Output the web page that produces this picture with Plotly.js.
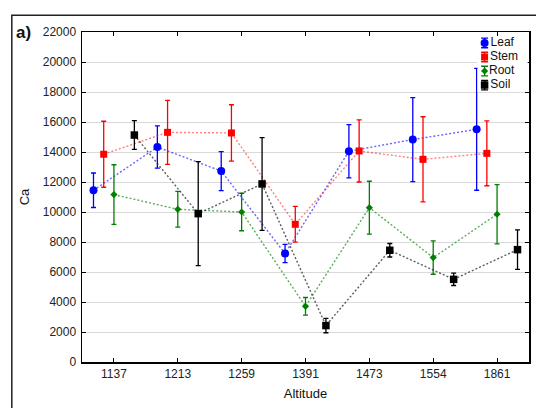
<!DOCTYPE html>
<html>
<head>
<meta charset="utf-8">
<script src="https://cdn.plot.ly/plotly-3.0.1.min.js"></script>
<style>
  html, body { margin: 0; padding: 0; background: #fff; }
  #chart { width: 536px; height: 408px; }
</style>
</head>
<body>
<div id="chart"></div>
<script>
// Altitude sites (categories on the x axis)
const altitudes = ['1137', '1213', '1259', '1391', '1473', '1554', '1861'];

// Ca concentration means per plant part / soil
const leafCa  = [11450, 14330, 12730, 7230, 14050, 14830, 15510];
const stemCa  = [13850, 15310, 15270, 9180, 14070, 13510, 13910];
const rootCa  = [11160, 10180, 10000, 3710, 10290, 6960, 9850];
const soilCa  = [15130, 9890, 11870, 2430, 7450, 5510, 7490];

// Error bar half-widths
const leafErr = [1150, 1410, 1300, 610, 1780, 2800, 4060];
const stemErr = [2200, 2130, 1880, 1190, 2070, 2840, 2160];
const rootErr = [1990, 1190, 1250, 590, 1760, 1110, 1970];
const soilErr = [960, 3470, 3090, 480, 450, 410, 1320];

const seriesNames = ['Leaf', 'Stem', 'Root', 'Soil'];

// Horizontal dodge of each series inside a category slot
const dodge = { Leaf: -0.32, Stem: -0.16, Root: 0, Soil: 0.32 };

const styles = {
  Leaf: { color: '#0000ff', line: 'rgba(40,40,255,0.7)',  symbol: 'circle',  size: 8 },
  Stem: { color: '#ff0000', line: 'rgba(255,40,40,0.6)',  symbol: 'square',  size: 7 },
  Root: { color: '#008000', line: 'rgba(20,140,20,0.7)',  symbol: 'diamond', size: 5.5 },
  Soil: { color: '#000000', line: 'rgba(40,40,40,0.75)',  symbol: 'square',  size: 7.5 }
};

const values = { Leaf: leafCa, Stem: stemCa, Root: rootCa, Soil: soilCa };
const errors = { Leaf: leafErr, Stem: stemErr, Root: rootErr, Soil: soilErr };

const FONT = 'Liberation Sans, Arial, sans-serif';

const traces = seriesNames.map(name => {
  const s = styles[name];
  return {
    type: 'scatter',
    mode: 'lines+markers',
    name: name,
    showlegend: false,
    x: altitudes.map((_, i) => i + dodge[name]),
    y: values[name],
    line: { color: s.line, width: 1.4, dash: '2px,2px' },
    marker: { color: s.color, symbol: s.symbol, size: s.size },
    error_y: { type: 'data', array: errors[name], visible: true,
               color: s.color, thickness: 1.3, width: 2.5 }
  };
});

// Key: one marker-with-error-bar glyph per series, stacked on a small hidden subplot
seriesNames.forEach((name, i) => {
  const s = styles[name];
  traces.push({
    type: 'scatter',
    mode: 'markers+text',
    xaxis: 'x2', yaxis: 'y2',
    showlegend: false,
    hoverinfo: 'skip',
    x: [7],
    y: [i],
    text: [name],
    textposition: 'middle right',
    textfont: { family: FONT, size: 12, color: '#111' },
    marker: { color: s.color, symbol: s.symbol, size: s.size },
    error_y: { type: 'constant', value: 0.34, visible: true,
               color: s.color, thickness: 1.3, width: 3.5 }
  });
});

const axisFont = { family: FONT, size: 12, color: '#222' };

const layout = {
  width: 536,
  height: 408,
  margin: { l: 82, r: 7, t: 32, b: 46 },
  paper_bgcolor: '#fff',
  plot_bgcolor: '#fff',
  font: axisFont,
  showlegend: false,
  xaxis: {
    range: [-0.5, 6.5],
    tickvals: altitudes.map((_, i) => i),
    ticktext: altitudes,
    showgrid: false,
    zeroline: false,
    showline: true, linecolor: '#000', linewidth: 1.5,
    mirror: 'ticks', ticks: 'inside', ticklen: 4, tickcolor: '#000',
    tickfont: axisFont,
    title: { text: 'Altitude', font: { family: FONT, size: 13, color: '#111' }, standoff: 9 }
  },
  yaxis: {
    range: [0, 22000],
    dtick: 2000,
    tickformat: 'd',
    showgrid: true, gridcolor: '#d9d9d9', gridwidth: 1,
    zeroline: false,
    showline: true, linecolor: '#000', linewidth: 1.5,
    mirror: 'ticks', ticks: 'inside', ticklen: 4, tickcolor: '#000',
    tickfont: axisFont,
    ticklabelstandoff: 2,
    title: { text: 'Ca', font: { family: FONT, size: 13, color: '#111' }, standoff: 10 }
  },
  xaxis2: {
    domain: [0.885, 0.997], anchor: 'y2',
    range: [0, 50], visible: false, fixedrange: true
  },
  yaxis2: {
    domain: [0.818, 0.988], anchor: 'x2',
    range: [3.5, -0.5], visible: false, fixedrange: true
  },
  annotations: [{
    text: '<b>a)</b>', xref: 'paper', yref: 'paper',
    x: -0.152, y: 1.0, xanchor: 'left', yanchor: 'middle',
    showarrow: false,
    font: { family: FONT, size: 17, color: '#111' }
  }],
  shapes: [
    {
      // panel frame around the whole figure
      type: 'rect', xref: 'paper', yref: 'paper',
      x0: -0.157, x1: 1.1, y0: -0.5, y1: 1.051,
      line: { color: '#222', width: 1.5 }, fillcolor: 'rgba(0,0,0,0)', layer: 'below'
    },
    {
      // white backing of the key, over the gridlines
      type: 'rect', xref: 'paper', yref: 'paper',
      x0: 0.885, x1: 0.997, y0: 0.818, y1: 0.99,
      line: { width: 0 }, fillcolor: '#fff', layer: 'between'
    }
  ]
};

Plotly.newPlot('chart', traces, layout, { staticPlot: true, displayModeBar: false });
</script>
</body>
</html>
